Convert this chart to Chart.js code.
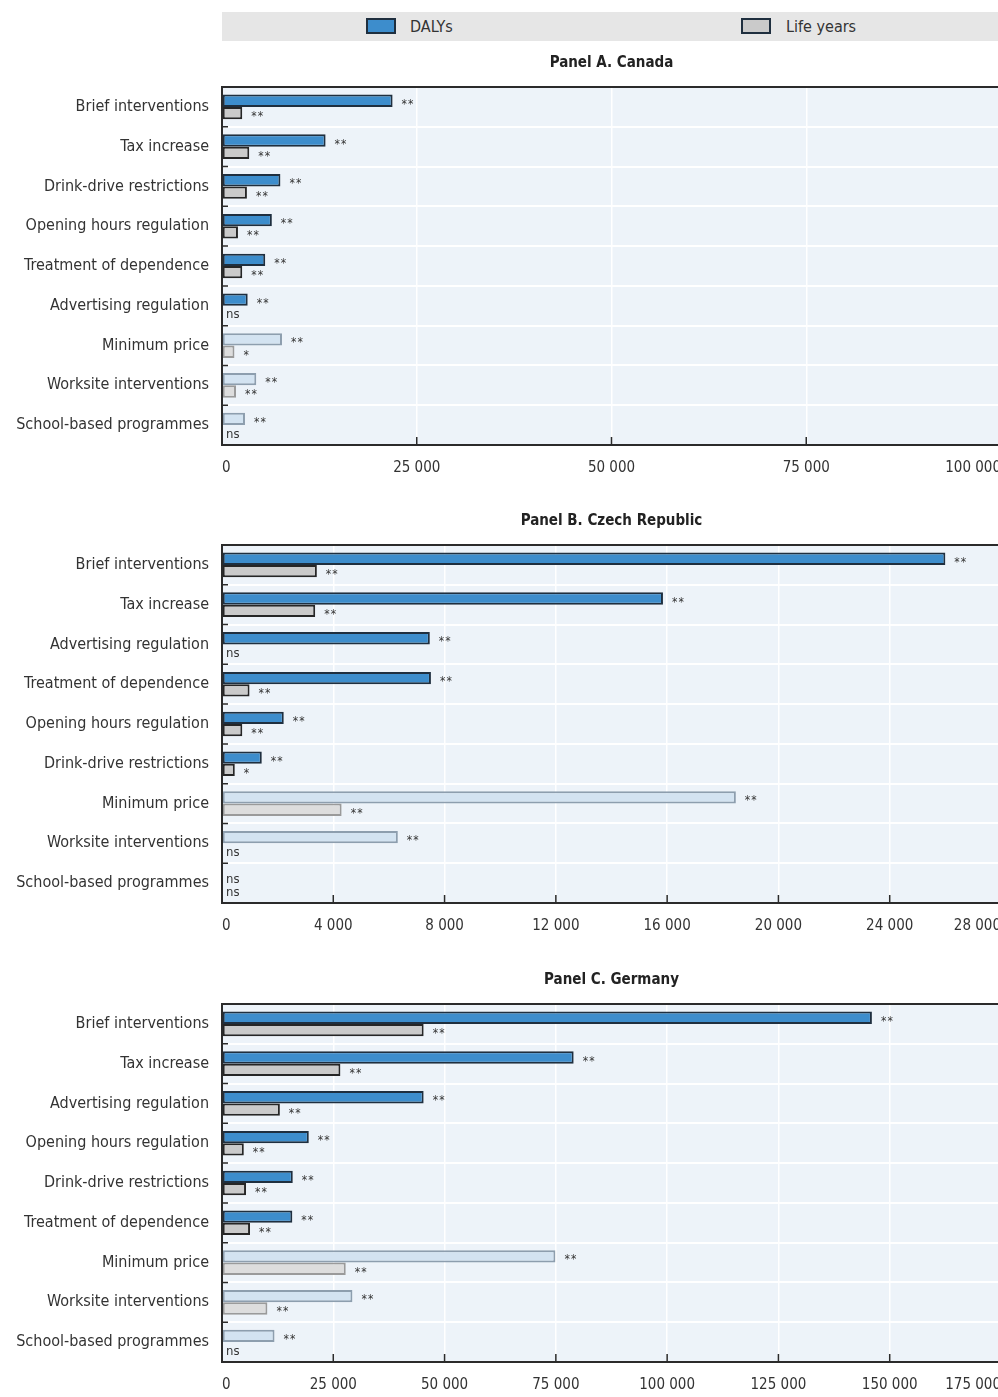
<!DOCTYPE html>
<html>
<head>
<script src="https://cdn.jsdelivr.net/npm/chart.js@4.4.1/dist/chart.umd.min.js"></script>
<style>
    body {
        margin: 0;
        background: #ffffff;
        overflow: hidden;
        font-family: 'Liberation Sans Narrow', 'DejaVu Sans Condensed', sans-serif;
    }
    #legend {
        position: absolute;
        left: 222px;
        top: 12px;
        width: 800px;
        height: 29px;
        background: #e6e6e6;
    }
    .swatch {
        position: absolute;
        top: 6px;
        width: 26px;
        height: 12px;
        border: 2px solid #1f2f3f;
    }
    .legend-text {
        position: absolute;
        top: 0;
        line-height: 29px;
        font-size: 16px;
        color: #333;
    }
    .panel {
        position: absolute;
        left: 0;
        width: 1040px;
        height: 432px;
    }
</style>
</head>
<body>
<div id="legend">
    <div class="swatch" style="left:144px; background:#3d8dcc;"></div>
    <div class="legend-text" style="left:188px;">DALYs</div>
    <div class="swatch" style="left:519px; background:#cacaca;"></div>
    <div class="legend-text" style="left:564px;">Life years</div>
</div>
<div class="panel" style="top:47px;"><canvas id="chartA"></canvas></div>
<div class="panel" style="top:505px;"><canvas id="chartB"></canvas></div>
<div class="panel" style="top:964px;"><canvas id="chartC"></canvas></div>
<script>
// Panel A. Canada
const labelsA = ['Brief interventions', 'Tax increase', 'Drink-drive restrictions', 'Opening hours regulation',
    'Treatment of dependence', 'Advertising regulation', 'Minimum price', 'Worksite interventions', 'School-based programmes'];
const dalysA = [21900, 13300, 7500, 6400, 5550, 3300, 7700, 4400, 2950];
const lifeA = [2600, 3500, 3200, 2050, 2600, null, 1600, 1800, null];
const sigDalysA = ['**', '**', '**', '**', '**', '**', '**', '**', '**'];
const sigLifeA = ['**', '**', '**', '**', '**', 'ns', '*', '**', 'ns'];
const ticksA = { max: 100000, step: 25000 };

// Panel B. Czech Republic
const labelsB = ['Brief interventions', 'Tax increase', 'Advertising regulation', 'Treatment of dependence',
    'Opening hours regulation', 'Drink-drive restrictions', 'Minimum price', 'Worksite interventions', 'School-based programmes'];
const dalysB = [26000, 15850, 7470, 7510, 2220, 1430, 18470, 6320, null];
const lifeB = [3410, 3350, null, 990, 730, 460, 4300, null, null];
const sigDalysB = ['**', '**', '**', '**', '**', '**', '**', '**', 'ns'];
const sigLifeB = ['**', '**', 'ns', '**', '**', '*', '**', 'ns', 'ns'];
const ticksB = { max: 28000, step: 4000 };

// Panel C. Germany
const labelsC = ['Brief interventions', 'Tax increase', 'Advertising regulation', 'Opening hours regulation',
    'Drink-drive restrictions', 'Treatment of dependence', 'Minimum price', 'Worksite interventions', 'School-based programmes'];
const dalysC = [146000, 79000, 45300, 19500, 15900, 15800, 74900, 29300, 11800];
const lifeC = [45300, 26600, 13000, 4900, 5400, 6300, 27800, 10200, null];
const sigDalysC = ['**', '**', '**', '**', '**', '**', '**', '**', '**'];
const sigLifeC = ['**', '**', '**', '**', '**', '**', '**', '**', 'ns'];
const ticksC = { max: 175000, step: 25000 };

// categories drawn with the pale colours
const lightCats = ['Minimum price', 'Worksite interventions', 'School-based programmes'];

const FONT = "'Liberation Sans Narrow', 'DejaVu Sans Condensed', sans-serif";

function fmt(v) {
    return String(v).replace(/\B(?=(\d{3})+(?!\d))/g, ' ');
}

function panelPlugin(title, sigs) {
    return {
        id: 'panelDeco',
        beforeDraw(chart) {
            const a = chart.chartArea, ctx = chart.ctx;
            ctx.save();
            ctx.fillStyle = '#edf3f9';
            ctx.fillRect(a.left, a.top, a.right - a.left, a.bottom - a.top);
            ctx.restore();
        },
        afterDatasetsDraw(chart) {
            const a = chart.chartArea, ctx = chart.ctx;
            const xs = chart.scales.x, ys = chart.scales.y;
            ctx.save();
            // significance markers
            chart.data.datasets.forEach((ds, di) => {
                const meta = chart.getDatasetMeta(di);
                meta.data.forEach((bar, i) => {
                    const s = sigs[di][i];
                    let y = bar.y;
                    if (!isFinite(y)) {
                        y = ys.getPixelForValue(i) + (di === 0 ? -6 : 6);
                    }
                    ctx.fillStyle = '#333';
                    if (s === 'ns') {
                        ctx.font = '13px ' + FONT;
                        ctx.textBaseline = 'middle';
                        ctx.textAlign = 'left';
                        ctx.fillText('ns', a.left + 4, y + 3);
                    } else {
                        const x0 = (ds.data[i] == null ? a.left : bar.x) + 9;
                        ctx.font = '12px ' + FONT;
                        ctx.textBaseline = 'alphabetic';
                        ctx.textAlign = 'left';
                        for (let k = 0; k < s.length; k++) {
                            ctx.fillText('*', x0 + k * 6.5, y + 7);
                        }
                    }
                });
            });
            // frame
            ctx.strokeStyle = '#2b2b2b';
            ctx.lineWidth = 2;
            ctx.strokeRect(a.left, a.top, a.right - a.left, a.bottom - a.top);
            // inside ticks
            ctx.lineWidth = 1.5;
            ctx.beginPath();
            const n = chart.data.labels.length;
            const h = (a.bottom - a.top) / n;
            for (let i = 1; i < n; i++) {
                const y = a.top + i * h;
                ctx.moveTo(a.left, y);
                ctx.lineTo(a.left + 6, y);
            }
            xs.ticks.forEach(t => {
                if (t.value === 0) return;
                const x = xs.getPixelForValue(t.value);
                ctx.moveTo(x, a.bottom);
                ctx.lineTo(x, a.bottom - 8);
            });
            ctx.stroke();
            // title
            ctx.fillStyle = '#222';
            ctx.font = 'bold 15px ' + FONT;
            ctx.textAlign = 'center';
            ctx.textBaseline = 'middle';
            ctx.fillText(title, (a.left + a.right) / 2, a.top - 24);
            ctx.restore();
        }
    };
}

function makePanel(id, title, labels, dalys, life, sigD, sigL, tk) {
    const light = labels.map(l => lightCats.includes(l));
    new Chart(document.getElementById(id), {
        type: 'bar',
        data: {
            labels: labels,
            datasets: [{
                label: 'DALYs',
                data: dalys,
                backgroundColor: light.map(l => l ? '#d3e3f1' : '#3d8dcc'),
                borderColor: light.map(l => l ? '#8d9eae' : '#1f2f3f'),
                borderWidth: 2,
                borderSkipped: false
            }, {
                label: 'Life years',
                data: life,
                backgroundColor: light.map(l => l ? '#dddddd' : '#cacaca'),
                borderColor: light.map(l => l ? '#9a9a9a' : '#262626'),
                borderWidth: 2,
                borderSkipped: false
            }]
        },
        options: {
            indexAxis: 'y',
            responsive: true,
            maintainAspectRatio: false,
            animation: false,
            categoryPercentage: 0.62,
            barPercentage: 1.0,
            layout: { padding: { top: 40, right: 39, bottom: 0, left: 0 } },
            plugins: {
                legend: { display: false },
                tooltip: { enabled: false }
            },
            scales: {
                x: {
                    min: 0,
                    max: tk.max,
                    border: { display: false },
                    grid: { color: '#ffffff', lineWidth: 1.5, drawTicks: false },
                    ticks: {
                        stepSize: tk.step,
                        padding: 14,
                        align: 'inner',
                        color: '#333',
                        font: { family: FONT, size: 15 },
                        maxRotation: 0,
                        callback: v => fmt(v)
                    },
                    afterFit(scale) {
                        scale.height = 34;
                        scale.paddingRight = 0;
                        scale.paddingLeft = 0;
                    }
                },
                y: {
                    border: { display: false },
                    grid: { color: '#ffffff', lineWidth: 2, drawTicks: false, offset: true },
                    ticks: {
                        padding: 13,
                        color: '#333',
                        font: { family: FONT, size: 16 }
                    },
                    afterFit(scale) {
                        scale.width = 222;
                    }
                }
            }
        },
        plugins: [panelPlugin(title, [sigD, sigL])]
    });
}

makePanel('chartA', 'Panel A. Canada', labelsA, dalysA, lifeA, sigDalysA, sigLifeA, ticksA);
makePanel('chartB', 'Panel B. Czech Republic', labelsB, dalysB, lifeB, sigDalysB, sigLifeB, ticksB);
makePanel('chartC', 'Panel C. Germany', labelsC, dalysC, lifeC, sigDalysC, sigLifeC, ticksC);
</script>
</body>
</html>
